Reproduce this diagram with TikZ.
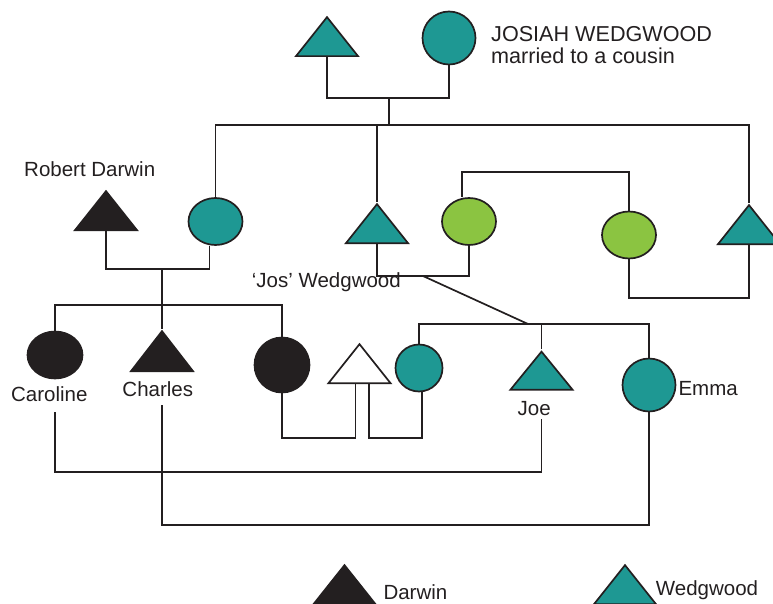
\documentclass[tikz,border=0pt]{standalone}
\usepackage{fontspec}
\setmainfont{Liberation Sans}
\usetikzlibrary{shapes.geometric}
\definecolor{wteal}{RGB}{30,152,147}
\definecolor{wgreen}{RGB}{139,196,65}
\definecolor{ink}{RGB}{35,31,32}
\tikzstyle{male}=[isosceles triangle, isosceles triangle stretches, shape border rotate=90, draw=ink, line width=1.7pt, inner sep=0pt, minimum width=62pt, minimum height=39pt, anchor=lower side]
\tikzstyle{female}=[ellipse, draw=ink, line width=1.7pt, inner sep=0pt, minimum width=54pt, minimum height=47pt]
\tikzstyle{nametext}=[text=ink, font=\fontsize{20.5}{21.6}\selectfont, inner sep=0pt]
\tikzstyle{link}=[draw=ink, line width=1.7pt]

\begin{document}
\begin{tikzpicture}[x=1pt, y=-1pt]
    \useasboundingbox (0,0) rectangle (773,604);
    \node [male, fill=wteal] (jw) at (327,57) {};
    \node [female, fill=wteal, minimum width=53pt, minimum height=53pt] (sw) at (449,38) {};
    \node [nametext, font=\fontsize{21.6}{21.5}\selectfont, anchor=north west, align=left] (jwtxt) at (491,26.5) {JOSIAH WEDGWOOD\\married to a cousin};
    \coordinate (jwp) at (389,98);
    \coordinate (jwk) at (389,125);
    \draw [link] (jw.lower side) |- (jwp) -| (sw.south);
    \draw [link] (jwp) -- (jwk);
    \node [female, fill=wteal] (suk) at (215.5,221.5) {};
    \node [male, fill=wteal] (jos) at (377,244) {};
    \node [male, fill=wteal] (jwson) at (749,245) {};
    \draw [link] (suk.north) |- (jwk) -| (jwson.apex);
    \draw [link] (jos.apex) -- (jos.apex |- jwk);
    \node [nametext, anchor=base west] (rdtxt) at (24,176.7) {Robert Darwin};
    \node [male, fill=ink] (rd) at (106,231) {};
    \coordinate (rdp) at (162,269);
    \coordinate (rdk) at (162,305);
    \draw [link] (rd.lower side) |- (rdp) -| ([xshift=-6pt]suk.south);
    \draw [link] (rdp) -- (rdk);
    \node [female, fill=wgreen] (allen1) at (469,221.5) {};
    \node [female, fill=wgreen] (allen2) at (629,235) {};
    \node [nametext, anchor=base west] (jostxt) at (251.7,287.7) {‘Jos’ Wedgwood};
    \coordinate (josp) at (423,276);
    \coordinate (josk) at (528,324);
    \draw [link] (jos.lower side) |- (josp) -| (allen1.south);
    \draw [link] (josp) -- (josk);
    \coordinate (allp) at (545,171.7);
    \draw [link] ([xshift=-7pt]allen1.north) |- (allp) -| (allen2.north);
    \coordinate (ajp) at (690,297.7);
    \draw [link] (allen2.south) |- (ajp) -| (jwson.lower side);
    \node [female, fill=ink, minimum width=55pt] (car) at (55,355) {};
    \node [nametext, anchor=base] (cartxt) at (49.3,401) {Caroline};
    \node [male, fill=ink, minimum height=40pt] (charles) at (162,372) {};
    \node [nametext, anchor=base] (chtxt) at (157.8,396.7) {Charles};
    \node [female, fill=ink, minimum width=55pt, minimum height=55pt] (dd) at (282,365) {};
    \draw [link] (car.north) |- (rdk) -| (dd.north);
    \draw [link] (rdp) -- (charles.apex);
    \node [male, fill=white] (mh) at (359.5,384) {};
    \node [female, fill=wteal, minimum width=47pt, minimum height=47pt] (wd) at (419,368) {};
    \coordinate (ddp) at (320,437.7);
    \coordinate (wdp) at (395,437.7);
    \draw [link] (dd.south) |- (ddp) -| ([xshift=-4pt]mh.lower side);
    \draw [link] ([xshift=9.5pt]mh.lower side) |- (wdp) -| ([xshift=3pt]wd.south);
    \node [male, fill=wteal, minimum height=38pt] (joe) at (541.5,390.5) {};
    \node [nametext, anchor=base] (joetxt) at (534.2,415) {Joe};
    \node [female, fill=wteal, minimum width=53pt, minimum height=53pt] (emma) at (649,385) {};
    \node [nametext, anchor=base west] (emmatxt) at (678.3,395.7) {Emma};
    \draw [link] (wd.north) |- (josk) -| (emma.north);
    \draw [link] (joe.apex) -- (joe.apex |- josk);
    \coordinate (cjp) at (300,471.7);
    \coordinate (cep) at (400,525);
    \draw [link, shorten <=10.7pt, shorten >=3.3pt] (car |- cartxt.south) |- (cjp) -| (joe.apex |- joetxt.south);
    \draw [link, shorten <=8.3pt] (charles.apex |- chtxt.south) |- (cep) -| (emma.south);
    \node [male, fill=ink] (ldar) at (344.5,605) {};
    \node [nametext, anchor=base west] (ldartxt) at (383.3,599) {Darwin};
    \node [male, fill=wteal] (lwed) at (625,605) {};
    \node [nametext, anchor=base west] (lwedtxt) at (655.7,595) {Wedgwood};
\end{tikzpicture}
\end{document}
